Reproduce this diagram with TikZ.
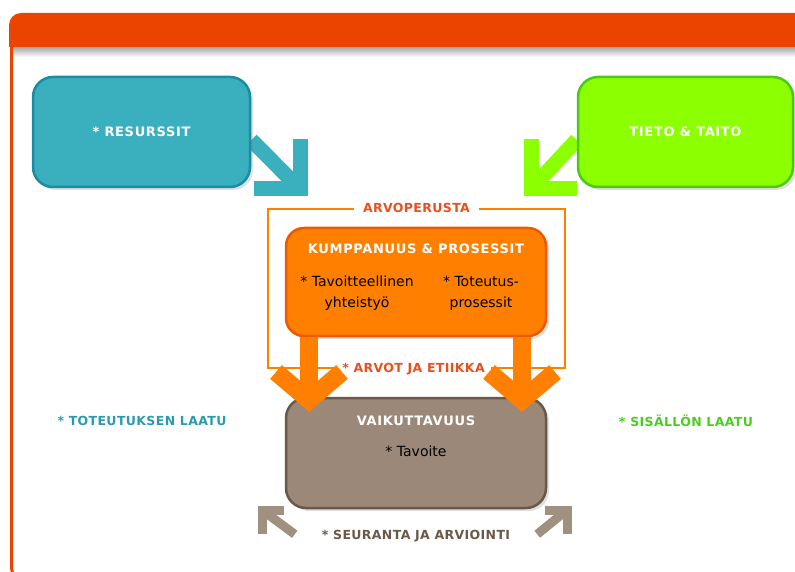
\documentclass[tikz,border=0pt]{standalone}
\usepackage{fontspec}
\setmainfont{DejaVu Sans}
\newfontfamily\boxcap[LetterSpace=5]{DejaVu Sans}
\newfontfamily\labcap[LetterSpace=3]{DejaVu Sans}
\usetikzlibrary{positioning,shadows,backgrounds}

\definecolor{barc}{HTML}{EB4400}
\definecolor{tealc}{HTML}{3AAFBE}
\definecolor{tealb}{HTML}{1A8DA0}
\definecolor{tealt}{HTML}{2A9AAE}
\definecolor{greenc}{HTML}{8CFF00}
\definecolor{greenb}{HTML}{4CC81A}
\definecolor{greent}{HTML}{4CCC22}
\definecolor{orangec}{HTML}{FF8000}
\definecolor{orangeb}{HTML}{EE5800}
\definecolor{arvot}{HTML}{E8501E}
\definecolor{brownc}{HTML}{9C8878}
\definecolor{brownb}{HTML}{6A5848}
\definecolor{browna}{HTML}{A09080}

\tikzset{
  box/.style={draw,line width=2.5pt,rounded corners=20pt,minimum width=217pt,minimum height=110pt,
    drop shadow={opacity=0.25,shadow xshift=3pt,shadow yshift=-3pt}},
  title/.style={text=white,font=\boxcap\bfseries\fontsize{13}{15}\selectfont},
  caplab/.style={font=\labcap\bfseries\fontsize{12.5}{14}\selectfont},
  body/.style={font=\fontsize{14}{21}\selectfont,align=center},
  fat/.style={line width=15pt,line join=miter},
}

\begin{document}
\begin{tikzpicture}[x=1pt,y=-1pt,on grid]
\useasboundingbox (0,0) rectangle (795,572);
% outer frame
\shade[top color=black!35,bottom color=white] (13,47) rectangle (795,57);
\fill[barc] (9,47) [rounded corners=12pt] -- (9,13) [sharp corners] -- (800,13) -- (800,47) -- cycle;
\draw[barc,line width=3pt] (11.5,47) [rounded corners=12pt] -- (11.5,580) -- (40,580);

% input boxes
\node[box,title,fill=tealc,draw=tealb] (RES) at (141.5,132) {* RESURSSIT};
\node[box,title,fill=greenc,draw=greenb,minimum width=215pt] (TT) at (685.5,132) {TIETO \& TAITO};

% value frame
\node[draw=orangec,line width=2pt,minimum width=297pt,minimum height=159pt] (AP) at (416.5,288.5) {};
\node[caplab,text=arvot,fill=white,inner xsep=9pt] at (AP.north) {ARVOPERUSTA};

% process and result
\node[box,fill=orangec,draw=orangeb,minimum width=260pt,minimum height=108pt,rounded corners=18pt] (KP) at (416,282) {};
\node[title] at ([yshift=-22pt]KP.north) {KUMPPANUUS \& PROSESSIT};
\node[body] at ([shift={(-59pt,-11pt)}]KP.center) {* Tavoitteellinen\\yhteistyö};
\node[body] at ([shift={(65pt,-11pt)}]KP.center) {* Toteutus-\\prosessit};
\node[box,fill=brownc,draw=brownb,minimum width=260pt] (VA) [below=171pt of KP] {};
\node[title] at ([yshift=-24pt]VA.north) {VAIKUTTAVUUS};
\node[body] at ([yshift=-55pt]VA.north) {* Tavoite};
\node[caplab,text=arvot,fill=white,inner xsep=6pt] at ([xshift=-3pt]AP.south) {* ARVOT JA ETIIKKA};

% input arrows
\coordinate (RT) at (300,189);
\coordinate (GT) at (531,189);
\begin{scope}[on background layer]
  \draw[fat,tealc] ([yshift=-8pt]RES.east) -- (RT);
  \draw[fat,tealc] ([yshift=50pt]RT) -- (RT) -- ([xshift=-46pt]RT);
  \draw[fat,greenc] ([yshift=-8pt]TT.west) -- (GT);
  \draw[fat,greenc] ([yshift=50pt]GT) -- (GT) -- ([xshift=46pt]GT);
\end{scope}

% process arrows
\coordinate (OL) at (309,400);
\coordinate (OR) at (522,400);
\draw[fat,orangec,line width=18pt] ([xshift=-107pt]KP.south) -- (OL);
\draw[fat,orangec,line width=18pt] ([shift={(-33pt,28pt)}]OL) -- (OL) -- ([shift={(33pt,28pt)}]OL);
\draw[fat,orangec,line width=18pt] ([xshift=106pt]KP.south) -- (OR);
\draw[fat,orangec,line width=18pt] ([shift={(-33pt,28pt)}]OR) -- (OR) -- ([shift={(33pt,28pt)}]OR);

% feedback arrows
\coordinate (BL) at (262,510);
\coordinate (BR) at (567,510);
\draw[fat,browna,line width=9pt] ([shift={(10pt,-25pt)}]VA.south west) -- (BL);
\draw[fat,browna,line width=9pt] ([yshift=-24pt]BL) -- (BL) -- ([xshift=22pt]BL);
\draw[fat,browna,line width=9pt] ([shift={(-10pt,-25pt)}]VA.south east) -- (BR);
\draw[fat,browna,line width=9pt] ([yshift=-24pt]BR) -- (BR) -- ([xshift=-22pt]BR);
\node[caplab,text=brownb] at ([yshift=-27pt]VA.south) {* SEURANTA JA ARVIOINTI};

% quality labels
\node[caplab,text=tealt] at (142,421) {* TOTEUTUKSEN LAATU};
\node[caplab,text=greent] at (686,421) {* SISÄLLÖN LAATU};
\end{tikzpicture}
\end{document}
